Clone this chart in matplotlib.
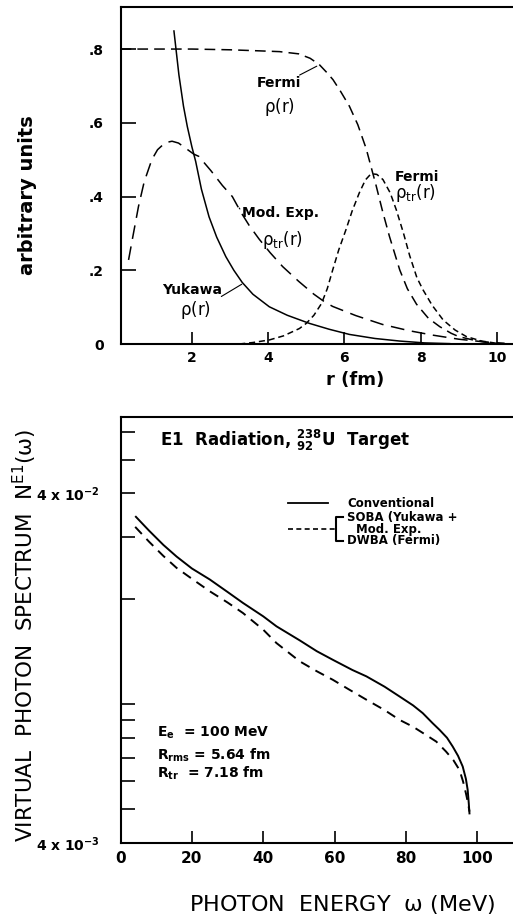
import matplotlib
matplotlib.use('Agg')
import matplotlib.pyplot as plt
from matplotlib.ticker import FixedLocator, NullLocator

plt.rcParams['font.family'] = ['DejaVu Sans']
plt.rcParams['mathtext.default'] = 'regular'

# ---- top panel: densities (arbitrary units) vs r (fm) ----
fermi_r = [0.13, 1.0, 2.0, 3.0, 3.8, 4.3, 4.8, 5.1, 5.34, 5.55, 5.7, 5.9, 6.13, 6.35, 6.57,
           6.70, 6.83, 7.0, 7.18, 7.45, 7.65, 7.89, 8.2, 8.5, 8.8, 9.0, 9.37, 9.8]
fermi_rho = [0.80, 0.80, 0.80, 0.798, 0.795, 0.793, 0.787, 0.775, 0.758, 0.735, 0.717, 0.685,
             0.645, 0.595, 0.53, 0.48, 0.43, 0.36, 0.292, 0.201, 0.15, 0.108, 0.07, 0.047,
             0.029, 0.02, 0.011, 0.003]

fermi_tr_r = [3.24, 3.6, 4.03, 4.4, 4.82, 5.0, 5.2, 5.4, 5.55, 5.69, 5.85, 6.04, 6.2, 6.39,
              6.55, 6.70, 6.85, 7.01, 7.2, 7.36, 7.55, 7.71, 7.9, 8.06, 8.3, 8.59, 8.9, 9.2,
              9.6, 9.99]
fermi_tr_rho = [0.0, 0.004, 0.011, 0.022, 0.042, 0.056, 0.078, 0.11, 0.15, 0.2, 0.255, 0.31,
                0.36, 0.41, 0.445, 0.462, 0.46, 0.446, 0.41, 0.364, 0.3, 0.24, 0.18, 0.147,
                0.105, 0.065, 0.038, 0.02, 0.008, 0.002]

modexp_r = [0.34, 0.45, 0.6, 0.75, 0.95, 1.1, 1.3, 1.48, 1.65, 1.85, 2.05, 2.18, 2.5, 2.8,
            3.06, 3.3, 3.5, 3.76, 4.05, 4.38, 4.8, 5.2, 5.47, 5.69, 6.3, 7.0, 7.7, 8.32, 9.0,
            9.64, 10.2]
modexp_rho = [0.228, 0.29, 0.373, 0.44, 0.50, 0.527, 0.546, 0.55, 0.545, 0.53, 0.515, 0.509,
              0.47, 0.43, 0.40, 0.355, 0.322, 0.285, 0.248, 0.21, 0.17, 0.135, 0.115, 0.102,
              0.077, 0.053, 0.036, 0.024, 0.013, 0.006, 0.002]

yukawa_r = [1.53, 1.66, 1.78, 1.88, 2.0, 2.1, 2.25, 2.45, 2.65, 2.89, 3.1, 3.32, 3.6, 4.03,
            4.5, 5.08, 5.6, 6.13, 6.8, 7.45, 8.1, 8.76]
yukawa_rho = [0.849, 0.73, 0.645, 0.59, 0.535, 0.495, 0.42, 0.345, 0.29, 0.237, 0.2, 0.167,
              0.135, 0.101, 0.078, 0.056, 0.04, 0.026, 0.015, 0.008, 0.003, 0.001]

# ---- bottom panel: virtual photon spectrum vs photon energy (MeV) ----
omega_conv = [4.3, 8, 12, 15.7, 20, 25, 30, 34.3, 40, 43.7, 50.2, 55, 59.5, 65, 68.9, 74,
              78.2, 82, 84.7, 87.5, 89.4, 91.5, 93.1, 94.6, 95.9, 96.8, 97.3, 97.6, 97.8]
n_conv = [0.0343, 0.0313, 0.0285, 0.0264, 0.0244, 0.0227, 0.0209, 0.01945, 0.0178, 0.01667,
          0.0152, 0.01415, 0.01337, 0.0125, 0.01199, 0.0112, 0.0105, 0.0099, 0.00941, 0.0088,
          0.00843, 0.0080, 0.00755, 0.0071, 0.00662, 0.0061, 0.00567, 0.0052, 0.00486]

omega_soba = [4.1, 8, 12, 15.7, 20, 25, 30, 34.3, 40, 43.7, 50.2, 55, 59.5, 64, 68.9, 74,
              78.2, 82, 85.6, 88.5, 91.2, 93.3, 95.0, 96.0, 96.8, 97.4, 97.8]
n_soba = [0.0321, 0.0291, 0.0265, 0.0245, 0.0228, 0.0210, 0.0195, 0.0182, 0.0163, 0.01493,
          0.01324, 0.0124, 0.01172, 0.0110, 0.01028, 0.0096, 0.0090, 0.0086, 0.00815, 0.0078,
          0.00731, 0.0069, 0.00647, 0.0060, 0.00555, 0.0052, 0.00492]

fig = plt.figure(figsize=(5.13, 9.24), dpi=100)

lw = 1.1
ax1 = fig.add_axes([0.235, 0.6277, 0.765, 0.3647])
ax1.plot(fermi_r, fermi_rho, color='k', lw=lw, dashes=(7, 4))
ax1.plot(fermi_tr_r, fermi_tr_rho, color='k', lw=lw, dashes=(4, 2.5))
ax1.plot(modexp_r, modexp_rho, color='k', lw=lw, dashes=(9, 5))
ax1.plot(yukawa_r, yukawa_rho, color='k', lw=lw)
ax1.set_xlim(0.13, 10.42)
ax1.set_ylim(0, 0.914)
ax1.set_xticks([2, 4, 6, 8, 10])
ax1.set_xticklabels(['2', '4', '6', '8', '10'])
ax1.set_yticks([0, 0.2, 0.4, 0.6, 0.8])
ax1.set_yticklabels(['0', '.2', '.4', '.6', '.8'])
ax1.tick_params(axis='x', direction='in', length=9, width=1.2, pad=5, labelsize=10)
ax1.tick_params(axis='y', direction='in', length=11, width=1.2, pad=12, labelsize=10)
for t in ax1.get_xticklabels() + ax1.get_yticklabels():
    t.set_fontweight('bold')
ax1.spines['right'].set_visible(False)
for s in ['left', 'bottom', 'top']:
    ax1.spines[s].set_linewidth(1.5)

txt = dict(fontsize=10, fontweight='bold')
ax1.text(4.29, 0.709, 'Fermi', ha='center', va='center', **txt)
ax1.text(4.29, 0.644, r'$\rho$(r)', ha='center', va='center', fontsize=12)
ax1.annotate('', xy=(5.34, 0.757), xytext=(4.76, 0.726),
             arrowprops=dict(arrowstyle='-', lw=0.8, color='k'))
ax1.text(7.32, 0.454, 'Fermi', ha='left', va='center', **txt)
ax1.text(7.32, 0.41, r'$\rho_{tr}$(r)', ha='left', va='center', fontsize=12)
ax1.text(3.32, 0.356, 'Mod. Exp.', ha='left', va='center', **txt)
ax1.text(3.84, 0.283, r'$\rho_{tr}$(r)', ha='left', va='center', fontsize=12)
ax1.annotate('', xy=(3.2, 0.375), xytext=(3.3, 0.36),
             arrowprops=dict(arrowstyle='-', lw=0.8, color='k'))
ax1.text(2.0, 0.147, 'Yukawa', ha='center', va='center', **txt)
ax1.text(2.1, 0.092, r'$\rho$(r)', ha='center', va='center', fontsize=12)
ax1.annotate('', xy=(3.37, 0.166), xytext=(2.71, 0.125),
             arrowprops=dict(arrowstyle='-', lw=0.8, color='k'))

fig.text(28 / 513, 0.789, 'arbitrary units', rotation=90, ha='center', va='center',
         fontsize=14, fontweight='bold')
fig.text(0.692, 0.589, 'r (fm)', ha='center', va='center', fontsize=13, fontweight='bold')

# bottom panel
ax2 = fig.add_axes([0.235, 0.0877, 0.765, 0.461])
ax2.plot(omega_conv, n_conv, color='k', lw=1.4)
ax2.plot(omega_soba, n_soba, color='k', lw=1.4, dashes=(5, 3.5))
ax2.set_yscale('log')
ax2.set_xlim(0, 110)
ax2.set_ylim(4e-3, 0.0662)
yt = [4e-3, 5e-3, 6e-3, 7e-3, 8e-3, 9e-3, 1e-2, 2e-2, 3e-2, 4e-2, 5e-2, 6e-2]
ax2.yaxis.set_major_locator(FixedLocator(yt))
ax2.yaxis.set_minor_locator(NullLocator())
ax2.set_yticklabels([r'4 x 10$^{-3}$'] + [''] * 8 + [r'4 x 10$^{-2}$', '', ''])
ax2.set_xticks([0, 20, 40, 60, 80, 100])
ax2.set_xticklabels(['0', '20', '40', '60', '80', '100'])
ax2.tick_params(axis='x', direction='in', length=9, width=1.2, pad=6, labelsize=11)
ax2.tick_params(axis='y', direction='in', length=10, width=1.2, pad=15, labelsize=10)
for t in ax2.get_xticklabels() + ax2.get_yticklabels():
    t.set_fontweight('bold')
ax2.spines['right'].set_visible(False)
for s in ['left', 'bottom', 'top']:
    ax2.spines[s].set_linewidth(1.5)

tr = ax2.transAxes
ax2.text(0.1006, 0.946, r'E1  Radiation, ${}^{238}_{92}$U  Target', transform=tr,
         ha='left', va='center', fontsize=12, fontweight='bold')
leg = dict(fontsize=8.5, fontweight='bold')
ax2.plot([0.4268, 0.5287], [0.797, 0.797], color='k', lw=1.3, transform=tr)
ax2.text(0.577, 0.797, 'Conventional', transform=tr, ha='left', va='center', **leg)
ax2.plot([0.4268, 0.549], [0.737, 0.737], color='k', lw=1.2, dashes=(3, 2), transform=tr)
ax2.plot([0.567, 0.549, 0.549, 0.567], [0.765, 0.765, 0.709, 0.709], color='k', lw=1.5,
         transform=tr)
ax2.text(0.577, 0.765, 'SOBA (Yukawa +', transform=tr, ha='left', va='center', **leg)
ax2.text(0.684, 0.737, 'Mod. Exp.', transform=tr, ha='center', va='center', **leg)
ax2.text(0.577, 0.709, 'DWBA (Fermi)', transform=tr, ha='left', va='center', **leg)

ax2.text(0.093, 0.258, r'E$_e$  = 100 MeV', transform=tr, ha='left', va='center', **txt)
ax2.text(0.093, 0.2066, r'R$_{rms}$ = 5.64 fm', transform=tr, ha='left', va='center', **txt)
ax2.text(0.093, 0.164, r'R$_{tr}$  = 7.18 fm', transform=tr, ha='left', va='center', **txt)

fig.text(25 / 513, 0.3128, r'VIRTUAL  PHOTON  SPECTRUM  N$^{E1}$($\omega$)', rotation=90,
         ha='center', va='center', fontsize=15.5)
fig.text(0.666, 0.0206, r'PHOTON  ENERGY  $\omega$ (MeV)', ha='center', va='center',
         fontsize=16)

fig.savefig('out.png', dpi=100)
